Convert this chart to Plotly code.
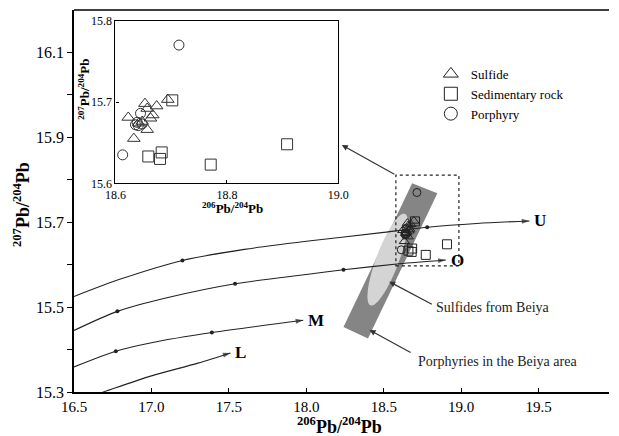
import numpy as np
import plotly.graph_objects as go

# ---------------- data ----------------
SULFIDE_X = [18.623, 18.653, 18.657, 18.667, 18.674, 18.694, 18.633, 18.657, 18.648, 18.663, 18.642]
SULFIDE_Y = [15.681, 15.698, 15.692, 15.684, 15.695, 15.703, 15.655, 15.666, 15.676, 15.680, 15.674]
SEDIMENT_X = [18.702, 18.659, 18.683, 18.680, 18.771, 18.908]
SEDIMENT_Y = [15.702, 15.633, 15.638, 15.630, 15.623, 15.648]
PORPHYRY_X = [18.714, 18.613, 18.645, 18.636, 18.641, 18.648, 18.639]
PORPHYRY_Y = [15.770, 15.635, 15.686, 15.672, 15.671, 15.673, 15.675]

# growth curves (Zartman & Doe style)
U_X = [16.5, 16.8, 17.2, 17.6, 18.0, 18.5, 18.78, 19.1, 19.44]
U_Y = [15.525, 15.566, 15.610, 15.636, 15.655, 15.676, 15.688, 15.697, 15.703]
U_TICK_X = [17.2, 18.78]
U_TICK_Y = [15.610, 15.688]

O_X = [16.5, 16.78, 17.1, 17.54, 18.0, 18.24, 18.6, 18.90]
O_Y = [15.445, 15.490, 15.522, 15.555, 15.577, 15.588, 15.602, 15.611]
O_TICK_X = [16.78, 17.54, 18.24]
O_TICK_Y = [15.490, 15.555, 15.588]

M_X = [16.5, 16.77, 17.0, 17.39, 17.98]
M_Y = [15.359, 15.396, 15.416, 15.440, 15.469]
M_TICK_X = [16.77, 17.39]
M_TICK_Y = [15.396, 15.440]

L_X = [16.6, 16.69, 17.0, 17.3, 17.51]
L_Y = [15.289, 15.300, 15.338, 15.368, 15.392]
L_TICK_X = []
L_TICK_Y = []

CURVE_NAMES = ["U", "O", "M", "L"]

# field of porphyries (parallelogram corners)
BAND_X = [18.683, 18.846, 18.398, 18.240]
BAND_Y = [15.792, 15.768, 15.426, 15.453]

XTICKS = [16.5, 17.0, 17.5, 18.0, 18.5, 19.0, 19.5]
YTICKS = [15.3, 15.5, 15.7, 15.9, 16.1]

# ---------------- layout constants ----------------
W, H = 619, 436
ML, MR, MT, MB = 74, 0, 10, 44
XR = [16.5, 19.954]
YR = [15.3, 16.2]
PW, PH = W - ML - MR, H - MT - MB
SX = PW / (XR[1] - XR[0])
SY = PH / (YR[1] - YR[0])

FONT = "Liberation Serif"
INK = "#222222"


def px_to_paper(px, py):
    return (px - ML) / PW, (MT + PH - py) / PH


fig = go.Figure()

# band (porphyries)
band_path = "M " + " L ".join(f"{x},{y}" for x, y in zip(BAND_X, BAND_Y)) + " Z"
fig.add_shape(type="path", path=band_path, xref="x", yref="y",
              fillcolor="#858585", line=dict(width=0), layer="below")

# ellipse (sulfides) - built in pixel space then mapped to data
ecx, ecy = 18.525, 15.612
ea, eb = 49.0, 11.5
theta = np.deg2rad(111.0)
t = np.linspace(0, 2 * np.pi, 90)
ux, uy = np.cos(theta), np.sin(theta)
vx, vy = -np.sin(theta), np.cos(theta)
ox = ea * np.cos(t) * ux + eb * np.sin(t) * vx
oy = ea * np.cos(t) * uy + eb * np.sin(t) * vy
ex = ecx + ox / SX
ey = ecy - oy / SY
ell_path = "M " + " L ".join(f"{a:.5f},{b:.5f}" for a, b in zip(ex, ey)) + " Z"
fig.add_shape(type="path", path=ell_path, xref="x", yref="y",
              fillcolor="#d4d4d4", line=dict(width=0), layer="below")

# dashed box
fig.add_shape(type="rect", xref="x", yref="y", x0=18.578, x1=18.985, y0=15.597, y1=15.811,
              line=dict(color=INK, width=1.2, dash="dot"))

# top frame line (right side is cropped in reference)
fig.add_shape(type="line", xref="paper", yref="paper", x0=0, x1=1, y0=1, y1=1,
              line=dict(color="black", width=1.5))

# growth curves
curves = [(U_X, U_Y, U_TICK_X, U_TICK_Y), (O_X, O_Y, O_TICK_X, O_TICK_Y),
          (M_X, M_Y, M_TICK_X, M_TICK_Y), (L_X, L_Y, L_TICK_X, L_TICK_Y)]
for name, (cx, cy, tx, ty) in zip(CURVE_NAMES, curves):
    fig.add_trace(go.Scatter(x=cx, y=cy, mode="lines", line=dict(color=INK, width=1.1, shape="spline", smoothing=0.8),
                             showlegend=False, hoverinfo="skip"))
    if tx:
        fig.add_trace(go.Scatter(x=tx, y=ty, mode="markers", marker=dict(color=INK, size=4),
                                 showlegend=False, hoverinfo="skip"))
    fig.add_trace(go.Scatter(x=cx[-2:], y=cy[-2:], mode="markers",
                             marker=dict(symbol=["circle", "arrow"], size=[0, 8], color=INK,
                                         angleref="previous", line=dict(width=0)),
                             showlegend=False, hoverinfo="skip"))
    fig.add_annotation(x=cx[-1], y=cy[-1], text=f"<b>{name}</b>", showarrow=False,
                       xanchor="left", xshift=3, font=dict(family=FONT, size=17, color="black"))

groups = [
    ("Sulfide", SULFIDE_X, SULFIDE_Y, "triangle-up-open", 10),
    ("Sedimentary rock", SEDIMENT_X, SEDIMENT_Y, "square-open", 10),
    ("Porphyry", PORPHYRY_X, PORPHYRY_Y, "circle-open", 9),
]
for name, gx, gy, sym, sz in groups:
    # main plot
    fig.add_trace(go.Scatter(x=gx, y=gy, mode="markers", name=name, showlegend=False,
                             marker=dict(symbol=sym, size=sz - 1, color=INK, line=dict(width=1))))
    # inset
    fig.add_trace(go.Scatter(x=gx, y=gy, mode="markers", name=name, showlegend=False,
                             xaxis="x2", yaxis="y2",
                             marker=dict(symbol=sym, size=sz + 1, color="#333333", line=dict(width=1))))
    # legend entry
    fig.add_trace(go.Scatter(x=[None], y=[None], mode="markers", name=name, showlegend=True,
                             marker=dict(symbol=sym, size=13, color=INK, line=dict(width=1))))

# arrows and texts
arrow_kw = dict(showarrow=True, arrowhead=2, arrowsize=1, arrowwidth=1.2, arrowcolor="#333333",
                axref="x", ayref="y", text="")
fig.add_annotation(x=18.229, y=15.882, ax=18.578, ay=15.811, **arrow_kw)
fig.add_annotation(x=18.535, y=15.560, ax=18.820, ay=15.505, **arrow_kw)
fig.add_annotation(x=18.408, y=15.446, ax=18.683, ay=15.391, **arrow_kw)
fig.add_annotation(x=18.827, y=15.498, text="Sulfides from Beiya", showarrow=False, xanchor="left",
                   font=dict(family=FONT, size=14, color="#222"))
fig.add_annotation(x=18.711, y=15.371, text="Porphyries in the Beiya area", showarrow=False, xanchor="left",
                   font=dict(family=FONT, size=14, color="#222"))

title_kw = dict(xref="paper", yref="paper", showarrow=False, xanchor="center", yanchor="middle")
# main axis titles
tx, ty = px_to_paper(344, 425)
fig.add_annotation(x=tx, y=ty, text="<b><sup>206</sup>Pb/<sup>204</sup>Pb</b>",
                   font=dict(family=FONT, size=18, color="black"), **title_kw)
tx, ty = px_to_paper(20, 204)
fig.add_annotation(x=tx, y=ty, textangle=-90, text="<b><sup>207</sup>Pb/<sup>204</sup>Pb</b>",
                   font=dict(family=FONT, size=18, color="black"), **title_kw)

# inset titles
inset_dom_x = [(116.2 - ML) / PW, (343.3 - ML) / PW]
inset_dom_y = [(MT + PH - 183.3) / PH, (MT + PH - 20.7) / PH]
tx, ty = px_to_paper(235, 208)
fig.add_annotation(x=tx, y=ty, text="<b><sup>206</sup>Pb/<sup>204</sup>Pb</b>",
                   font=dict(family=FONT, size=13, color="black"), **title_kw)
tx, ty = px_to_paper(84, 89)
fig.add_annotation(x=tx, y=ty, textangle=-90, text="<b><sup>207</sup>Pb/<sup>204</sup>Pb</b>",
                   font=dict(family=FONT, size=13, color="black"), **title_kw)

fig.update_layout(
    width=W, height=H, autosize=False,
    margin=dict(l=ML, r=MR, t=MT, b=MB),
    paper_bgcolor="white", plot_bgcolor="white",
    font=dict(family=FONT, color="black"),
    xaxis=dict(range=XR, tickvals=XTICKS, ticktext=[f"{v:.1f}" for v in XTICKS],
               ticks="inside", ticklen=4, tickwidth=1, tickcolor="black",
               showline=True, linewidth=1.5, linecolor="black", mirror=False,
               showgrid=False, zeroline=False, tickfont=dict(size=15)),
    yaxis=dict(range=YR, tickvals=YTICKS, ticktext=[f"{v:.1f}" for v in YTICKS],
               ticks="outside", ticklen=5, tickwidth=1, tickcolor="black",
               minor=dict(tickvals=[15.4, 15.6, 15.8, 16.0], ticks="outside", ticklen=5, tickcolor="black"),
               showline=True, linewidth=1.5, linecolor="black", mirror=False,
               showgrid=False, zeroline=False, tickfont=dict(size=16)),
    xaxis2=dict(domain=inset_dom_x, anchor="y2", range=[18.6, 19.0], tickvals=[18.6, 18.8, 19.0],
                ticktext=["18.6", "18.8", "19.0"], ticks="inside", ticklen=3, tickcolor="black",
                showline=True, mirror=True, linewidth=1.2, linecolor="black",
                showgrid=False, zeroline=False, tickfont=dict(size=12)),
    yaxis2=dict(domain=inset_dom_y, anchor="x2", range=[15.6, 15.8], tickvals=[15.6, 15.7, 15.8],
                ticktext=["15.6", "15.7", "15.8"], ticks="inside", ticklen=3, tickcolor="black",
                showline=True, mirror=True, linewidth=1.2, linecolor="black",
                showgrid=False, zeroline=False, tickfont=dict(size=12)),
    legend=dict(x=0.667, y=0.872, xanchor="left", yanchor="top", bgcolor="rgba(0,0,0,0)",
                font=dict(family=FONT, size=13), itemsizing="trace", tracegroupgap=0),
    showlegend=True,
)

fig.write_html("out.html",
               config={"displayModeBar": False, "responsive": False},
               post_script="document.body.style.margin='0px';document.body.style.overflow='hidden';")
